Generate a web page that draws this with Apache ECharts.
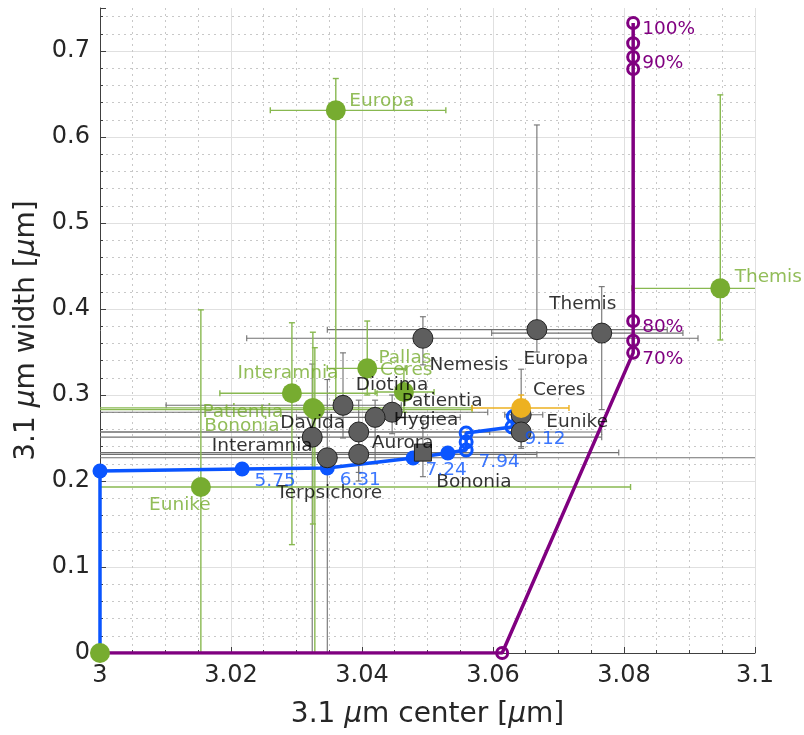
<!DOCTYPE html>
<html><head><meta charset="utf-8">
<script src="https://cdn.jsdelivr.net/npm/echarts@6/dist/echarts.min.js"></script>
<style>html,body{margin:0;padding:0;background:#fff}#c{width:804px;height:735px}</style>
</head><body><div id="c"></div>
<script>
// ---------- tick labels ----------
const xTickLabels = ['3', '3.02', '3.04', '3.06', '3.08', '3.1'];
const yTickLabels = ['0', '0.1', '0.2', '0.3', '0.4', '0.5', '0.6', '0.7'];

// ---------- gray asteroids (center, width, error ranges) ----------
const grayNames = ['Themis', 'Nemesis', 'Europa', 'Ceres', 'Eunike', 'Diotima', 'Patientia', 'Hygiea', 'Davida', 'Interamnia', 'Aurora', 'Bononia', 'Terpsichore'];
const grayX   = [3.0766, 3.0493, 3.0667, 3.0643, 3.0643, 3.0371, 3.0446, 3.0420, 3.0395, 3.0324, 3.0395, 3.0493, 3.0347];
const grayY   = [0.372, 0.366, 0.376, 0.277, 0.257, 0.288, 0.280, 0.274, 0.257, 0.251, 0.231, 0.233, 0.227];
const grayXLo = [3.0598, 3.0224, 3.0347, 3.0618, 2.990, 3.0101, 2.990, 3.030, 2.990, 2.990, 2.990, 2.990, 2.990];
const grayXHi = [3.0890, 3.0913, 3.0866, 3.0676, 3.0766, 3.0460, 3.0592, 3.055, 3.0595, 3.0766, 3.0667, 3.0792, 3.110];
const grayYLo = [0.283, 0.335, 0.350, 0.238, 0.240, 0.250, 0.255, 0.220, 0.200, 0.000, 0.210, 0.205, 0.000];
const grayYHi = [0.426, 0.391, 0.614, 0.330, 0.270, 0.349, 0.300, 0.294, 0.294, 0.336, 0.250, 0.270, 0.318];

// ---------- green asteroids ----------
const greenNames = ['Europa', 'Themis', 'Interamnia', 'Ceres', 'Pallas', 'Patientia', 'Bononia', 'Eunike', ''];
const greenX   = [3.0360, 3.0947, 3.0293, 3.0408, 3.0464, 3.0325, 3.0328, 3.0154, 3.0];
const greenY   = [0.631, 0.424, 0.302, 0.331, 0.3035, 0.285, 0.283, 0.193, 0.0];
const greenXLo = [3.0260, 3.0812, 3.0183, 3.0347, 3.0420, 2.990, 2.990, 2.990, 3.0];
const greenXHi = [3.0528, 3.1150, 3.0423, 3.0466, 3.0510, 3.0568, 3.0568, 3.081, 3.0];
const greenYLo = [0.294, 0.364, 0.126, 0.300, 0.280, 0.150, 0.000, 0.000, 0.0];
const greenYHi = [0.668, 0.649, 0.384, 0.386, 0.330, 0.373, 0.355, 0.399, 0.0];

// ---------- orange (Ceres) ----------
const orangeX = [3.0643], orangeY = [0.2849];
const orangeXLo = [3.0568], orangeXHi = [3.0716];
const orangeYLo = [0.270], orangeYHi = [0.300];

// ---------- blue curve ----------
const blueX = [3.0, 3.0, 3.0217, 3.0347, 3.0478, 3.0531, 3.0559, 3.0559, 3.0559, 3.0629, 3.0631];
const blueY = [0.0, 0.2116, 0.2140, 0.2151, 0.2267, 0.2326, 0.2360, 0.2453, 0.2558, 0.2628, 0.2750];
const blueLabels = ['', '', '5.75', '6.31', '7.24', '', '7.94', '', '', '9.12', ''];
const blueFilled = [true, true, true, true, true, true, false, false, false, false, false];

// ---------- purple curve ----------
const purpleX = [3.0, 3.0614, 3.0814, 3.0814, 3.0814, 3.0814, 3.0814, 3.0814, 3.0814];
const purpleY = [0.0, 0.0, 0.349, 0.363, 0.386, 0.679, 0.693, 0.709, 0.7326];
const purpleLabels = ['', '', '70%', '', '80%', '', '90%', '', '100%'];

// ---------- label placement (pixel offsets from point) ----------
const grayLabelOffset = {Themis:[-19,-29], Nemesis:[46,27], Europa:[19,30], Ceres:[38,-25], Eunike:[56,-10], Diotima:[49,-20], Patientia:[50,-11], Hygiea:[51,3], Davida:[-46,-9], Interamnia:[-50,9], Aurora:[44,-11], Bononia:[51,30], Terpsichore:[2,35]};
const greenLabelOffset = {Europa:[46,-9], Themis:[48,-11], Interamnia:[-4,-20], Ceres:[39,2], Pallas:[1,-34], Patientia:[-70,4], Bononia:[-73,17], Eunike:[-21,18]};
const graySymbol = {Bononia: 'rect'};

const FONT = 'DejaVu Sans';
const LABEL_SIZE = 18.5;
const GREEN = '#77AC30', GRAY = '#5e5e5e', ORANGE = '#EDB120', BLUE = '#0a55ff', PURPLE = '#800080';

function errData(xs, ys, xl, xh, yl, yh) {
  return xs.map((x, i) => [x, ys[i], xl[i], xh[i], yl[i], yh[i]]);
}
function errRender(color, width, cap) {
  return function (params, api) {
    const x = api.value(0), y = api.value(1);
    const xl = api.value(2), xh = api.value(3), yl = api.value(4), yh = api.value(5);
    const st = {stroke: color, lineWidth: width, fill: null};
    const ch = [];
    const seg = (a, b) => ch.push({type: 'line', shape: {x1: a[0], y1: a[1], x2: b[0], y2: b[1]}, style: st});
    if (xh > xl) {
      const pL = api.coord([xl, y]), pR = api.coord([xh, y]);
      seg(pL, pR);
      seg([pL[0], pL[1] - cap], [pL[0], pL[1] + cap]);
      seg([pR[0], pR[1] - cap], [pR[0], pR[1] + cap]);
    }
    if (yh > yl) {
      const pB = api.coord([x, yl]), pT = api.coord([x, yh]);
      seg(pB, pT);
      seg([pB[0] - cap, pB[1]], [pB[0] + cap, pB[1]]);
      seg([pT[0] - cap, pT[1]], [pT[0] + cap, pT[1]]);
    }
    return {type: 'group', children: ch};
  };
}
function errSeries(data, color, width, z) {
  return {type: 'custom', data: data, renderItem: errRender(color, width, 3), clip: true, z: z,
    encode: {x: 0, y: 1}, silent: true, animation: false};
}

const chart = echarts.init(document.getElementById('c'), null, {renderer: 'canvas'});

const axisColor = '#404040';
const titleStyle = {fontSize: 28, color: '#262626', fontFamily: FONT,
  rich: {i: {fontStyle: 'italic', fontSize: 28, fontFamily: FONT, color: '#262626'}}};
const option = {
  animation: false,
  backgroundColor: '#fff',
  grid: {left: 100, right: 49, top: 8, bottom: 82, containLabel: false},
  xAxis: {
    type: 'value', min: 3.0, max: 3.1, interval: 0.02,
    axisLine: {show: true, onZero: false, lineStyle: {color: axisColor, width: 1}},
    axisTick: {show: true, inside: true, length: 6, lineStyle: {color: axisColor}},
    minorTick: {show: true, splitNumber: 4, length: 3, lineStyle: {color: axisColor}},
    splitLine: {show: true, lineStyle: {color: '#e0e0e0', width: 1}},
    minorSplitLine: {show: true, lineStyle: {color: '#c8c8c8', width: 1, type: [2, 4]}},
    axisLabel: {margin: 11, fontSize: 24, color: '#262626', fontFamily: FONT,
      formatter: v => { const k = Math.round((v - 3) / 0.02); return Math.abs((v - 3) / 0.02 - k) < 1e-6 && k >= 0 && k < xTickLabels.length ? xTickLabels[k] : ''; }},
    name: '3.1 {i|μ}m center [{i|μ}m]', nameLocation: 'middle', nameGap: 48,
    nameTextStyle: titleStyle
  },
  yAxis: {
    type: 'value', min: 0, max: 0.75, interval: 0.1,
    axisLine: {show: true, onZero: false, lineStyle: {color: axisColor, width: 1}},
    axisTick: {show: true, inside: true, length: 6, lineStyle: {color: axisColor}},
    minorTick: {show: true, splitNumber: 5, length: 3, lineStyle: {color: axisColor}},
    splitLine: {show: true, showMaxLine: false, lineStyle: {color: '#e0e0e0', width: 1}},
    minorSplitLine: {show: true, lineStyle: {color: '#c8c8c8', width: 1, type: [2, 4]}},
    axisLabel: {margin: 10, fontSize: 24, color: '#262626', fontFamily: FONT, showMaxLabel: false,
      formatter: v => { const k = Math.round(v * 10); return Math.abs(v * 10 - k) < 1e-6 && k < yTickLabels.length ? yTickLabels[k] : ''; }},
    name: '3.1 {i|μ}m width [{i|μ}m]', nameLocation: 'middle', nameGap: 56,
    nameTextStyle: titleStyle
  },
  series: [
    errSeries(errData(grayX, grayY, grayXLo, grayXHi, grayYLo, grayYHi), '#707070', 1.1, 1),
    errSeries(errData(greenX, greenY, greenXLo, greenXHi, greenYLo, greenYHi), '#88b850', 1.4, 1),
    errSeries(errData(orangeX, orangeY, orangeXLo, orangeXHi, orangeYLo, orangeYHi), ORANGE, 1.4, 1),
    {
      type: 'line', z: 2, animation: false, silent: true,
      data: purpleX.map((x, i) => [x, purpleY[i]]),
      lineStyle: {color: PURPLE, width: 3.5},
      symbol: 'circle', symbolSize: 11, showSymbol: true,
      itemStyle: {color: 'rgba(0,0,0,0)', borderColor: PURPLE, borderWidth: 3},
      label: {show: true, position: 'right', distance: 2, offset: [0, 6], fontSize: LABEL_SIZE, fontFamily: FONT, color: PURPLE,
        formatter: p => purpleLabels[p.dataIndex]}
    },
    {
      type: 'line', z: 3, animation: false, silent: true,
      data: blueX.map((x, i) => ({
        value: [x, blueY[i]],
        symbolSize: blueFilled[i] ? 15 : 12,
        itemStyle: blueFilled[i] ? {color: BLUE, borderColor: BLUE, borderWidth: 0} : {color: 'rgba(0,0,0,0)', borderColor: BLUE, borderWidth: 3}
      })),
      lineStyle: {color: BLUE, width: 3.5},
      symbol: 'circle', showSymbol: true,
      label: {show: false}
    },
    {
      type: 'scatter', z: 4, animation: false, silent: true,
      data: grayNames.map((n, i) => ({name: n, value: [grayX[i], grayY[i]], symbol: graySymbol[n] || 'circle', symbolSize: graySymbol[n] ? 17 : 20})),
      itemStyle: {color: GRAY, borderColor: '#222', borderWidth: 1, opacity: 1}
    },
    {
      type: 'scatter', z: 5, animation: false, silent: true,
      data: greenNames.map((n, i) => ({name: n, value: [greenX[i], greenY[i]]})),
      symbolSize: 20, itemStyle: {color: GREEN, opacity: 1}
    },
    {
      type: 'scatter', z: 6, animation: false, silent: true,
      data: orangeX.map((x, i) => [x, orangeY[i]]),
      symbolSize: 20, itemStyle: {color: ORANGE, opacity: 1}
    },
    // text labels on top
    {
      type: 'scatter', z: 10, animation: false, silent: true, symbolSize: 1,
      itemStyle: {color: 'rgba(0,0,0,0)'},
      data: grayNames.map((n, i) => ({name: n, value: [grayX[i], grayY[i]], label: {offset: grayLabelOffset[n]}})),
      label: {show: true, position: 'inside', fontSize: LABEL_SIZE, fontFamily: FONT, color: '#000', formatter: p => p.name}
    },
    {
      type: 'scatter', z: 10, animation: false, silent: true, symbolSize: 1,
      itemStyle: {color: 'rgba(0,0,0,0)'},
      data: greenNames.map((n, i) => ({name: n, value: [greenX[i], greenY[i]], label: {offset: greenLabelOffset[n] || [0, 0]}})),
      label: {show: true, position: 'inside', fontSize: LABEL_SIZE, fontFamily: FONT, color: GREEN, formatter: p => p.name}
    },
    {
      type: 'scatter', z: 10, animation: false, silent: true, symbolSize: 1,
      itemStyle: {color: 'rgba(0,0,0,0)'},
      data: blueX.map((x, i) => ({name: blueLabels[i], value: [x, blueY[i]]})),
      label: {show: true, position: 'inside', offset: [33, 12], fontSize: LABEL_SIZE, fontFamily: FONT, color: BLUE, formatter: p => p.name}
    }
  ]
};
chart.setOption(option);
</script>
</body></html>
